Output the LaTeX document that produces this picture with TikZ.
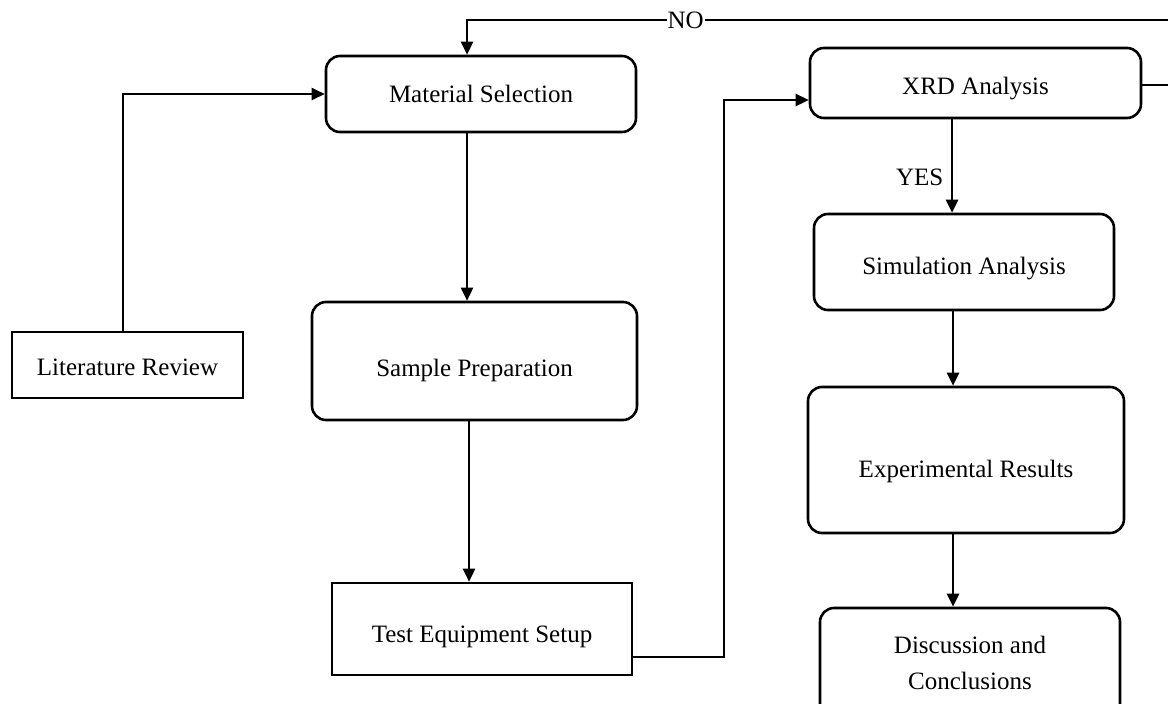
\documentclass[tikz,border=0pt]{standalone}
\usepackage{fontspec}
\setmainfont{Liberation Serif}
\usetikzlibrary{arrows.meta}
\begin{document}
\begin{tikzpicture}[x=1pt,y=-1pt,
  every node/.style={font=\fontsize{25}{36}\selectfont},
  rbox/.style={draw,line width=2.6pt,rounded corners=14pt,minimum width=#1,align=center,inner sep=0pt},
  sbox/.style={draw,line width=2.6pt,align=center,inner sep=0pt},
  down/.style={text height=#1,text depth=6pt},
  conn/.style={line width=2.6pt,-{Triangle[length=13pt,width=12pt]}},
  plain/.style={line width=2.6pt}]
\useasboundingbox (0,0) rectangle (1168,704);
\node[rbox=310pt,minimum height=76pt] (ms) at (481,94) {Material Selection};
\node[sbox,down=26pt,minimum width=231pt,minimum height=66pt] (lr) at (127.5,365) {Literature Review};
\node[rbox=325pt,down=36pt,minimum height=118pt] (sp) at (474.5,361) {Sample Preparation};
\node[sbox,down=32pt,minimum width=300pt,minimum height=92pt] (te) at (482,629) {Test Equipment Setup};
\node[rbox=331pt,down=28pt,minimum height=70pt] (xrd) at (975.5,83) {XRD Analysis};
\node[rbox=300pt,down=30pt,minimum height=96pt] (sim) at (964,262) {Simulation Analysis};
\node[rbox=316pt,down=40pt,minimum height=146pt] (exp) at (966,460) {Experimental Results};
\node[rbox=300pt,minimum height=110pt] (dc) at (970,663) {Discussion and\\Conclusions};
\coordinate (c1) at (724,0);
\coordinate (rt) at (1172,20);
\draw[conn] (lr.north -| 123,0) |- (ms.west);
\draw[conn] (ms.south -| 467,0) -- (sp.north -| 467,0);
\draw[conn] (sp.south -| 469,0) -- (te.north -| 469,0);
\draw[conn] (te.east |- 0,657) -| (c1 |- 0,380) |- (xrd.west |- 0,100);
\draw[conn] (xrd.south -| 952,0) -- node[pos=0.62,left=4pt] (yes) {YES} (sim.north -| 952,0);
\draw[conn] (sim.south -| 953,0) -- (exp.north -| 953,0);
\draw[conn] (exp.south -| 953,0) -- (dc.north -| 953,0);
\draw[plain] (xrd.east |- 0,85) -- (rt |- 0,85) -- (rt);
\draw[conn] (rt) -- node[pos=0.69,fill=white,inner sep=1pt] (no) {NO} (467,20) -- (ms.north -| 467,0);
\end{tikzpicture}
\end{document}
